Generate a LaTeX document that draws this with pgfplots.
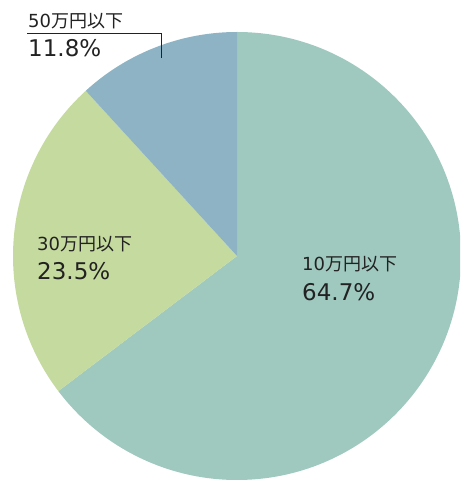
\documentclass[border=0pt]{standalone}
\usepackage{pgfplots}
\usepackage{pgfplotstable}
\pgfplotsset{compat=1.18}
\usepackage{fontspec}
\setmainfont{DejaVu Sans}
\newfontfamily\cjk{Noto Sans CJK JP}
\definecolor{c1}{HTML}{9FC9BF}
\definecolor{c2}{HTML}{C5DA9E}
\definecolor{c3}{HTML}{8DB3C5}
\definecolor{txt}{HTML}{222222}
\pgfplotstableread{
label value
10 64.7
30 23.5
50 11.8
}\piedata
\begin{document}%
\begin{tikzpicture}
\pgfplotstablegetelem{0}{value}\of\piedata \let\va\pgfplotsretval
\pgfplotstablegetelem{1}{value}\of\piedata \let\vb\pgfplotsretval
\pgfplotstablegetelem{2}{value}\of\piedata \let\vc\pgfplotsretval
\pgfmathsetmacro\aA{90}
\pgfmathsetmacro\aB{90-3.6*\va}
\pgfmathsetmacro\aC{\aB-3.6*\vb}
\pgfmathsetmacro\aD{\aC-3.6*\vc}
\begin{axis}[
  scale only axis, width=460pt, height=481pt,
  xmin=0, xmax=460, ymin=-481, ymax=0,
  hide axis, clip=true,
]
\begin{scope}
\clip (axis cs:0,-481) rectangle (axis cs:460,0);
\fill[c1] (axis cs:237,-256) -- ++(\aA:224pt) arc[start angle=\aA, end angle=\aB, radius=224pt] -- cycle;
\fill[c2] (axis cs:237,-256) -- ++(\aB:224pt) arc[start angle=\aB, end angle=\aC, radius=224pt] -- cycle;
\fill[c3] (axis cs:237,-256) -- ++(\aC:224pt) arc[start angle=\aC, end angle=\aD, radius=224pt] -- cycle;
\end{scope}
\draw[txt, line width=0.9pt] (axis cs:27,-33) -- (axis cs:161,-33) -- (axis cs:161,-58);
\node[anchor=base west, inner sep=0pt, text=txt, font=\fontsize{18}{18}\selectfont] at (axis cs:28,-28) {50{\cjk 万円以下}};
\node[anchor=base west, inner sep=0pt, text=txt, font=\fontsize{23}{23}\selectfont] at (axis cs:28,-56.5) {\vc\%};
\node[anchor=base west, inner sep=0pt, text=txt, font=\fontsize{18}{18}\selectfont] at (axis cs:37,-251) {30{\cjk 万円以下}};
\node[anchor=base west, inner sep=0pt, text=txt, font=\fontsize{23}{23}\selectfont] at (axis cs:37,-279.5) {\vb\%};
\node[anchor=base west, inner sep=0pt, text=txt, font=\fontsize{18}{18}\selectfont] at (axis cs:302,-271) {10{\cjk 万円以下}};
\node[anchor=base west, inner sep=0pt, text=txt, font=\fontsize{23}{23}\selectfont] at (axis cs:302,-300.5) {\va\%};
\end{axis}
\pgfresetboundingbox
\useasboundingbox (current axis.south west) rectangle (current axis.north east);
\end{tikzpicture}%
\end{document}
